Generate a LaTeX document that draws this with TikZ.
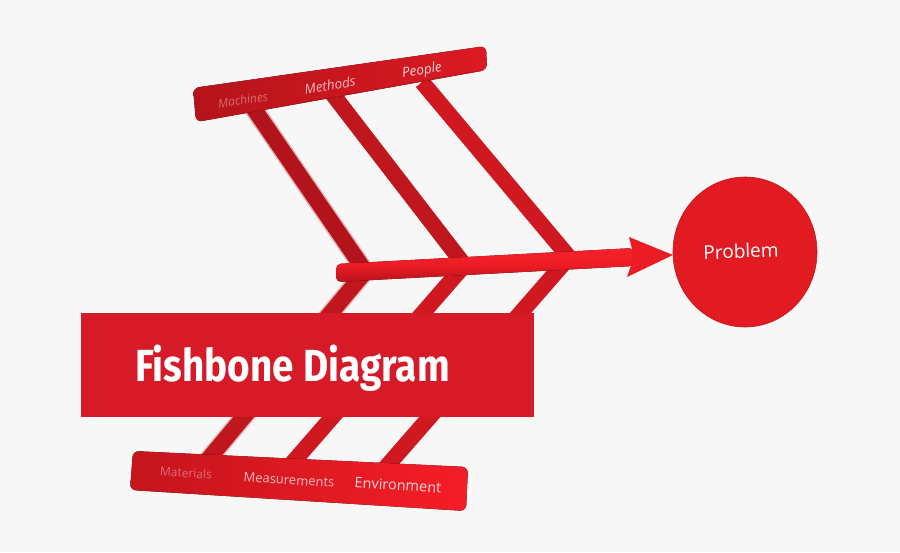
\documentclass[tikz,border=0pt]{standalone}
\usepackage{fontspec}
\setmainfont{Open Sans}
\newfontfamily\titlefont{Fira Sans}
\usetikzlibrary{shapes.geometric}
\definecolor{bg}{HTML}{F7F7F7}
\definecolor{barDark}{HTML}{B5131B}
\definecolor{barLight}{HTML}{DC1A23}
\definecolor{botDark}{HTML}{C4151D}
\definecolor{botLight}{HTML}{F61D27}
\definecolor{boneA}{HTML}{B3141C}
\definecolor{boneB}{HTML}{C0161E}
\definecolor{boneC}{HTML}{D01820}
\definecolor{spineTop}{HTML}{F6212A}
\definecolor{spineBot}{HTML}{B8121A}
\definecolor{headRed}{HTML}{EC1C25}
\definecolor{circRed}{HTML}{E21B22}
\definecolor{titleRed}{HTML}{D71A28}
\definecolor{lbl}{HTML}{F4D6D8}
\begin{document}
\begin{tikzpicture}[x=1pt,y=-1pt,
  bone/.style={line width=16pt, line cap=butt},
  blurbone/.style={line width=19pt, line cap=butt, opacity=0.3},
  toplbl/.style={text=lbl, font=\fontsize{13.5}{14}\selectfont\itshape, inner sep=0pt},
  botlbl/.style={text=lbl, font=\fontsize{13}{14}\selectfont, inner sep=0pt},
  blurlbl/.style={text=lbl, opacity=0.45, inner sep=0pt}]
\fill[bg] (0,0) rectangle (900,552);
\useasboundingbox (0,0) rectangle (900,552);
% coordinates of bones
\coordinate (t1a) at (252,106); \coordinate (t1b) at (363,268);
\coordinate (t2a) at (331,92);  \coordinate (t2b) at (462,262);
\coordinate (t3a) at (422,82);  \coordinate (t3b) at (568,256);
\coordinate (b1a) at (365,272); \coordinate (b1b) at (206,462);
\coordinate (b2a) at (462,268); \coordinate (b2b) at (288,468);
\coordinate (b3a) at (565,262); \coordinate (b3b) at (380,474);
% top bones
\draw[blurbone, draw=boneA] (t1a) -- (t1b);
\draw[bone, draw=boneA] (t1a) -- (t1b);
\draw[bone, draw=boneB] (t2a) -- (t2b);
\draw[bone, draw=boneC] (t3a) -- (t3b);
% bottom bones
\draw[blurbone, draw=boneB] (b1a) -- (b1b);
\draw[bone, draw=boneB] (b1a) -- (b1b);
\draw[bone, draw=boneC] (b2a) -- (b2b);
\draw[bone, draw=boneC] (b3a) -- (b3b);
% top bar
\fill[rounded corners=6pt, left color=barDark, right color=barLight] (193,88) -- (196,122) -- (487,70) -- (486,46) -- cycle;
\draw[spineBot, line width=1pt, opacity=0.5] (200,121) -- (482,70);
% bottom bar
\fill[rounded corners=6pt, left color=botDark, right color=botLight] (133,451) -- (130,490) -- (466,511) -- (468,467) -- cycle;
% top labels
\node[blurlbl, rotate=9.4, font=\fontsize{12}{13}\selectfont\itshape] (machines) at (243,100) {Machines};
\node[toplbl, rotate=9.4, opacity=0.85] (methods) at (330,85) {Methods};
\node[toplbl, rotate=9.4] (people) at (422,71) {People};
% bottom labels
\node[blurlbl, rotate=-3.5, font=\fontsize{12}{13}\selectfont] (materials) at (186,473) {Materials};
\node[botlbl, rotate=-3.5, opacity=0.85] (meas) at (289,480) {Measurements};
\node[botlbl, rotate=-3.5, font=\fontsize{14.5}{15}\selectfont] (env) at (398,485) {Environment};
% spine
\fill[rounded corners=5pt, top color=spineTop, bottom color=spineBot, middle color=headRed] (336,264) -- (634,248) -- (634,266) -- (336,282) -- cycle;
\fill[headRed] (629,237) -- (673,255) -- (627,277) -- (634,257) -- cycle;
% problem circle
\node[ellipse, fill=circRed, draw=circRed!85!black, line width=0.6pt, minimum width=144pt, minimum height=150pt, inner sep=0pt] (problem) at (745,252) {};
\node[text=white, font=\fontsize{19}{20}\selectfont, rotate=2, inner sep=0pt] (ptext) at (741,251) {Problem};
% title
\node[fill=titleRed, minimum width=453pt, minimum height=104pt, anchor=north west, inner sep=0pt] (titlebox) at (81,313) {};
\node[anchor=base west, text=white, font=\titlefont\bfseries\fontsize{45}{45}\selectfont, xscale=0.86, inner sep=0pt] (title) at (135,381) {Fishbone Diagram};
\end{tikzpicture}
\end{document}
